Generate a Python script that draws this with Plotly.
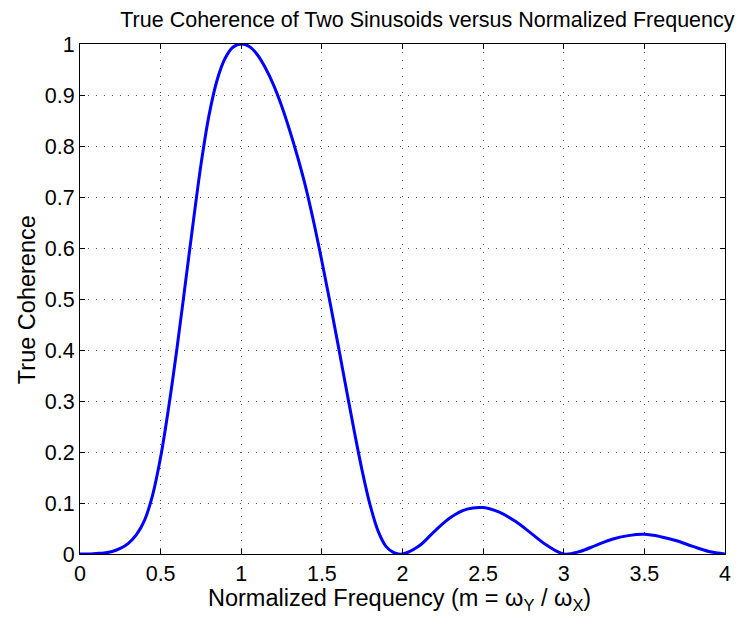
import plotly.graph_objects as go

# нормированная частота m = wY / wX
m = [0.00, 0.05, 0.10, 0.15, 0.20, 0.25, 0.30, 0.35, 0.40, 0.45,
     0.50, 0.55, 0.60, 0.65, 0.70, 0.75, 0.80, 0.85, 0.90, 0.95,
     1.00, 1.05, 1.10, 1.15, 1.20, 1.25, 1.30, 1.35, 1.40, 1.45,
     1.50, 1.55, 1.60, 1.65, 1.70, 1.75, 1.80, 1.85, 1.90, 1.95,
     2.00, 2.10, 2.20, 2.30, 2.40, 2.50, 2.60, 2.70, 2.80, 2.90,
     3.00, 3.10, 3.20, 3.30, 3.40, 3.50, 3.60, 3.70, 3.80, 3.90, 4.00]

# истинная когерентность
coherence = [0.000, 0.000, 0.001, 0.002, 0.005, 0.011, 0.021, 0.038, 0.066, 0.115,
             0.190, 0.288, 0.400, 0.522, 0.645, 0.763, 0.860, 0.929, 0.972, 0.994,
             1.000, 0.995, 0.979, 0.953, 0.920, 0.879, 0.831, 0.778, 0.719, 0.650,
             0.574, 0.494, 0.411, 0.326, 0.242, 0.163, 0.095, 0.044, 0.014, 0.002,
             0.000, 0.015, 0.045, 0.072, 0.088, 0.091, 0.082, 0.064, 0.040, 0.016,
             0.000, 0.005, 0.017, 0.029, 0.036, 0.0385, 0.034, 0.026, 0.015, 0.005, 0.000]

x_ticks = [0, 0.5, 1, 1.5, 2, 2.5, 3, 3.5, 4]
x_labels = ["0", "0.5", "1", "1.5", "2", "2.5", "3", "3.5", "4"]
y_ticks = [0, 0.1, 0.2, 0.3, 0.4, 0.5, 0.6, 0.7, 0.8, 0.9, 1]
y_labels = ["0", "0.1", "0.2", "0.3", "0.4", "0.5", "0.6", "0.7", "0.8", "0.9", "1"]

font_family = "Liberation Sans, Arial, Helvetica, sans-serif"

figure = go.Figure(go.Scatter(
    x=m, y=coherence,
    mode="lines",
    line={'color': "#0000ff", 'width': 3, 'shape': "spline", 'smoothing': 1.0},
    showlegend=False,
))

axis_common = {
    'showline': True,
    'linecolor': "black",
    'linewidth': 1,
    'mirror': "ticks",
    'ticks': "inside",
    'ticklen': 5,
    'tickcolor': "black",
    'showgrid': True,
    'gridcolor': "#555555",
    'griddash': "1px,7px",
    'gridwidth': 1,
    'zeroline': False,
    'automargin': False,
    'tickfont': {'size': 21.5, 'color': "black"},
}

# страница сдвинута на 8px (отступ body), поэтому фигура чуть меньше окна
figure.update_layout(
    width=741, height=614,
    margin={'l': 72, 'r': 24, 't': 36, 'b': 68},
    paper_bgcolor="white",
    plot_bgcolor="white",
    font={'family': font_family, 'size': 20, 'color': "black"},
    title={
        'text': "True Coherence of Two Sinusoids versus Normalized Frequency",
        'x': 0.566, 'xanchor': "center",
        'y': 1 - 11 / 614, 'yanchor': "middle",
        'yref': "container",
        'font': {'size': 21.5, 'color': "black"},
    },
    xaxis={
        **axis_common,
        'range': [0, 4],
        'tickmode': "array",
        'tickvals': x_ticks,
        'ticktext': x_labels,
    },
    yaxis={
        **axis_common,
        'range': [0, 1],
        'tickmode': "array",
        'tickvals': y_ticks,
        'ticktext': y_labels,
    },
    annotations=[
        {
            'text': "Normalized Frequency (m = ω<sub>Y</sub> / ω<sub>X</sub>)",
            'xref': "paper", 'yref': "paper",
            'x': 0.4946, 'y': -0.057,
            'xanchor': "center", 'yanchor': "top",
            'showarrow': False,
            'font': {'size': 23.5, 'color': "black"},
        },
        {
            'text': "True Coherence",
            'xref': "paper", 'yref': "paper",
            'x': -0.082, 'y': 0.498,
            'xanchor': "center", 'yanchor': "middle",
            'textangle': -90,
            'showarrow': False,
            'font': {'size': 23.5, 'color': "black"},
        },
    ],
)

figure.write_html("out.html")
